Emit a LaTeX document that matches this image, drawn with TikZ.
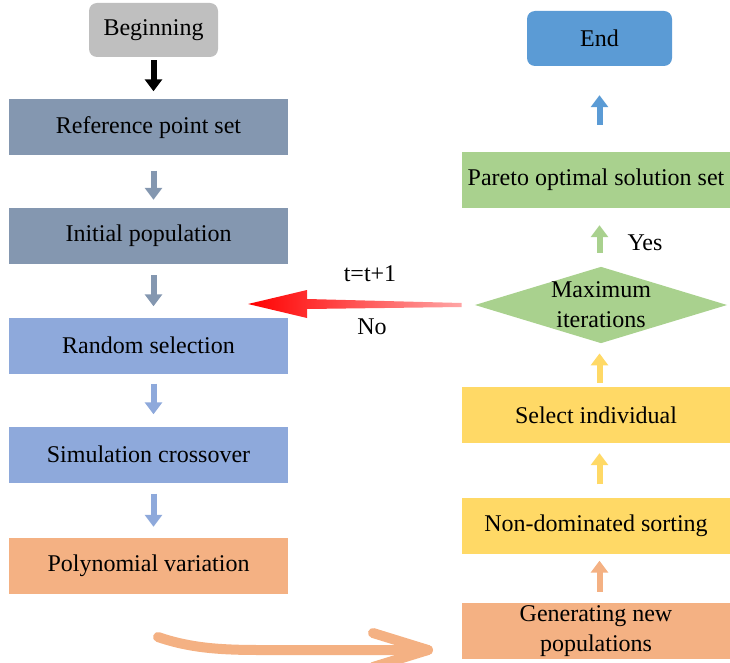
\documentclass[tikz,border=0pt]{standalone}
\usepackage{fontspec}
\setmainfont{Liberation Serif}
\usetikzlibrary{calc, shapes.geometric, arrows.meta}
\definecolor{slate}{HTML}{8497B0}
\definecolor{skyblue}{HTML}{8EA9DB}
\definecolor{peach}{HTML}{F4B183}
\definecolor{gold}{HTML}{FFD966}
\definecolor{leaf}{HTML}{A9D18E}
\definecolor{ocean}{HTML}{5B9BD5}
\definecolor{silver}{HTML}{BFBFBF}

\begin{document}
\begin{tikzpicture}[x=1pt, y=-1pt, font=\fontsize{24}{30}\selectfont,
  box/.style={rectangle, inner sep=0pt, minimum width=279pt, minimum height=56pt, align=center},
  rbox/.style={box, minimum width=268pt},
  flow/.style={line width=6pt, -{Triangle[length=12pt, width=17pt]}},
  sweep/.style={peach, line width=10pt, line cap=round, line join=round}]

\useasboundingbox (0,0) rectangle (730,663);

% left column
\node[box, fill=silver, rounded corners=8pt, minimum width=129pt, minimum height=54pt] (beg) at (153.5,30) {Beginning};
\node[box, fill=slate] (ref) at (148.5,127.5) {Reference point set};
\node[box, fill=slate] (init) at (148.5,236) {Initial population};
\node[box, fill=skyblue] (rand) at (148.5,345.5) {Random selection};
\node[box, fill=skyblue] (cross) at (148.5,454.5) {Simulation crossover};
\node[box, fill=peach] (poly) at (148.5,566) {Polynomial variation};

% right column
\node[box, fill=ocean, rounded corners=8pt, minimum width=145pt, minimum height=55pt] (end) at (599.5,38.5) {End};
\node[rbox, fill=leaf] (par) at (596,180) {Pareto optimal solution set};
\node[diamond, fill=leaf, inner sep=0pt, aspect=3.3, minimum width=252pt, minimum height=76pt, align=center] (dia) at (601,305) {Maximum\\iterations};
\node[rbox, fill=gold] (sel) at (596,415) {Select individual};
\node[rbox, fill=gold] (nondom) at (596,525.5) {Non-dominated sorting};
\node[rbox, fill=peach] (gen) at (596,631) {Generating new\\populations};

% down the left
\draw[flow, black, shorten <=3pt, shorten >=8pt] (beg.south) -- (ref.north -| beg);
\foreach \a/\b/\c/\s/\e in {ref/init/slate/15pt/8pt, init/rand/slate/11pt/11pt,
  rand/cross/skyblue/10pt/12pt, cross/poly/skyblue/11pt/11pt}
  \draw[flow, \c, shorten <=\s, shorten >=\e] (\a.south -| beg) -- (\b.north -| beg);

% up the right
\foreach \a/\b/\c/\s/\e in {gen/nondom/peach/11pt/7pt, nondom/sel/gold/13pt/10pt,
  sel/dia/gold/4pt/10pt, dia/par/leaf/14pt/17pt, par/end/ocean/27pt/29pt}
  \draw[flow, \c, shorten <=\s, shorten >=\e] (\a.north -| end) -- (\b.south -| end);

% back to the start
\coordinate (back) at (248,304);
\shade[left color=red, right color=red!35] (back) -- ++(59,-14) -- ++(0,9)
  -- ($(dia.west)+(-13,-2)$) -- ++(0,4) -- ($(back)+(59,5)$) -- ++(0,9) -- cycle;
\node (inc) at (370,274) {t=t+1};
\node (no) at (372,327) {No};
\node (yes) at (645,243) {Yes};

% bottom sweep arrow
\coordinate (cs) at (158,637);
\coordinate (ce) at (428,650);
\draw[sweep] (cs) .. controls (190,648) and (220,650) .. (260,650) -- (ce);
\draw[sweep] ($(ce)+(-55,-17)$) -- (ce) -- ($(ce)+(-55,17)$);
\end{tikzpicture}
\end{document}
